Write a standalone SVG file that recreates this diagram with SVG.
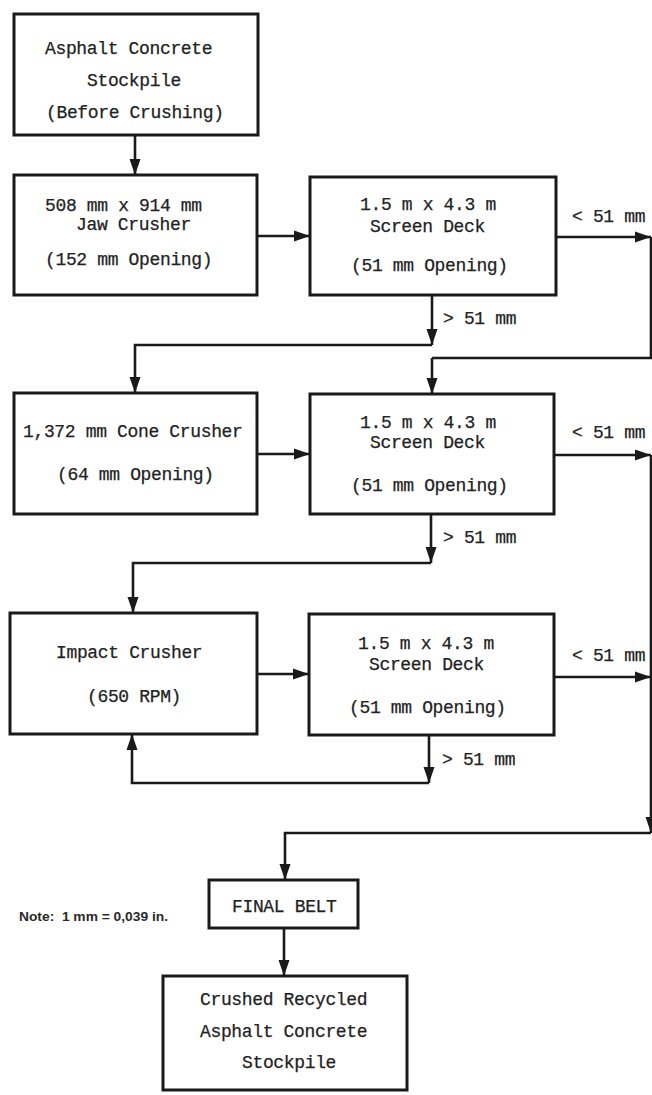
<svg xmlns="http://www.w3.org/2000/svg" width="652" height="1095" viewBox="0 0 652 1095">
<style>
.box{fill:#fff;stroke:#1a1a1a;stroke-width:3}
.t{font-family:"Liberation Mono","Courier New",monospace;font-size:18px;letter-spacing:-0.35px;fill:#222;stroke:#222;stroke-width:0.25}
.c{fill:none;stroke:#1a1a1a;stroke-width:2.6}
.a{marker-end:url(#ah)}
.note{font-family:"Liberation Sans",Arial,sans-serif;font-size:13px;font-weight:bold;fill:#2a2a2a}
</style>
<defs>
<marker id="ah" markerUnits="userSpaceOnUse" markerWidth="16" markerHeight="12" viewBox="0 0 16 12" refX="16" refY="6" orient="auto">
<path d="M0,0.5 L16,6 L0,11.5 z" fill="#1a1a1a"/>
</marker>
</defs>
<rect width="652" height="1095" fill="#fff"/>
<g id="connectors">
<path class="c a" d="M135,135 V175"/>
<path class="c a" d="M257,236 H310"/>
<path class="c a" d="M556,237 H651"/>
<path class="c" d="M651,237 V358 H432"/>
<path class="c a" d="M432,358 V394"/>
<path class="c a" d="M432,295 V345"/>
<path class="c a" d="M432,345 H135 V393"/>
<path class="c a" d="M257,454 H310"/>
<path class="c a" d="M554,455 H651"/>
<path class="c a" d="M651,455 V833"/>
<path class="c a" d="M431,514 V563"/>
<path class="c a" d="M431,563 H133 V613"/>
<path class="c a" d="M257,674 H309"/>
<path class="c a" d="M554,677 H651"/>
<path class="c a" d="M429,735 V783"/>
<path class="c a" d="M429,783 H132 V734"/>
<path class="c a" d="M651,833 H285 V880"/>
<path class="c a" d="M284,928 V976"/>
</g>
<g id="n-stockpile-before">
<rect class="box" x="14" y="14" width="244" height="121"/>
<text class="t" x="45" y="54">Asphalt Concrete</text>
<text class="t" x="87" y="86">Stockpile</text>
<text class="t" x="46" y="118">(Before Crushing)</text>
</g>
<g id="n-jaw">
<rect class="box" x="14" y="175" width="243" height="120"/>
<text class="t" x="45" y="211">508 mm x 914 mm</text>
<text class="t" x="76" y="230">Jaw Crusher</text>
<text class="t" x="45" y="265">(152 mm Opening)</text>
</g>
<g id="n-screen1">
<rect class="box" x="310" y="177" width="246" height="118"/>
<text class="t" x="360" y="210">1.5 m x 4.3 m</text>
<text class="t" x="370" y="232">Screen Deck</text>
<text class="t" x="351" y="271">(51 mm Opening)</text>
</g>
<g id="n-cone">
<rect class="box" x="14" y="393" width="243" height="121"/>
<text class="t" x="23" y="437">1,372 mm Cone Crusher</text>
<text class="t" x="57" y="480">(64 mm Opening)</text>
</g>
<g id="n-screen2">
<rect class="box" x="310" y="394" width="244" height="120"/>
<text class="t" x="360" y="428">1.5 m x 4.3 m</text>
<text class="t" x="370" y="448">Screen Deck</text>
<text class="t" x="351" y="491">(51 mm Opening)</text>
</g>
<g id="n-impact">
<rect class="box" x="10" y="613" width="247" height="121"/>
<text class="t" x="56" y="658">Impact Crusher</text>
<text class="t" x="87" y="702">(650 RPM)</text>
</g>
<g id="n-screen3">
<rect class="box" x="309" y="614" width="245" height="121"/>
<text class="t" x="358" y="649">1.5 m x 4.3 m</text>
<text class="t" x="369" y="670">Screen Deck</text>
<text class="t" x="349" y="713">(51 mm Opening)</text>
</g>
<g id="labels">
<text class="t" x="572" y="222">&lt; 51 mm</text>
<text class="t" x="443" y="324">&gt; 51 mm</text>
<text class="t" x="572" y="438">&lt; 51 mm</text>
<text class="t" x="443" y="543">&gt; 51 mm</text>
<text class="t" x="572" y="661">&lt; 51 mm</text>
<text class="t" x="442" y="765">&gt; 51 mm</text>
<text class="note" x="19" y="921" textLength="149" lengthAdjust="spacingAndGlyphs">Note:&#160; 1 mm = 0,039 in.</text>
</g>
<g id="n-final-belt">
<rect class="box" x="209" y="880" width="149" height="48"/>
<text class="t" x="232" y="912">FINAL BELT</text>
</g>
<g id="n-stockpile-after">
<rect class="box" x="163" y="976" width="244" height="114"/>
<text class="t" x="200" y="1005">Crushed Recycled</text>
<text class="t" x="200" y="1037">Asphalt Concrete</text>
<text class="t" x="242" y="1068">Stockpile</text>
</g>
</svg>
